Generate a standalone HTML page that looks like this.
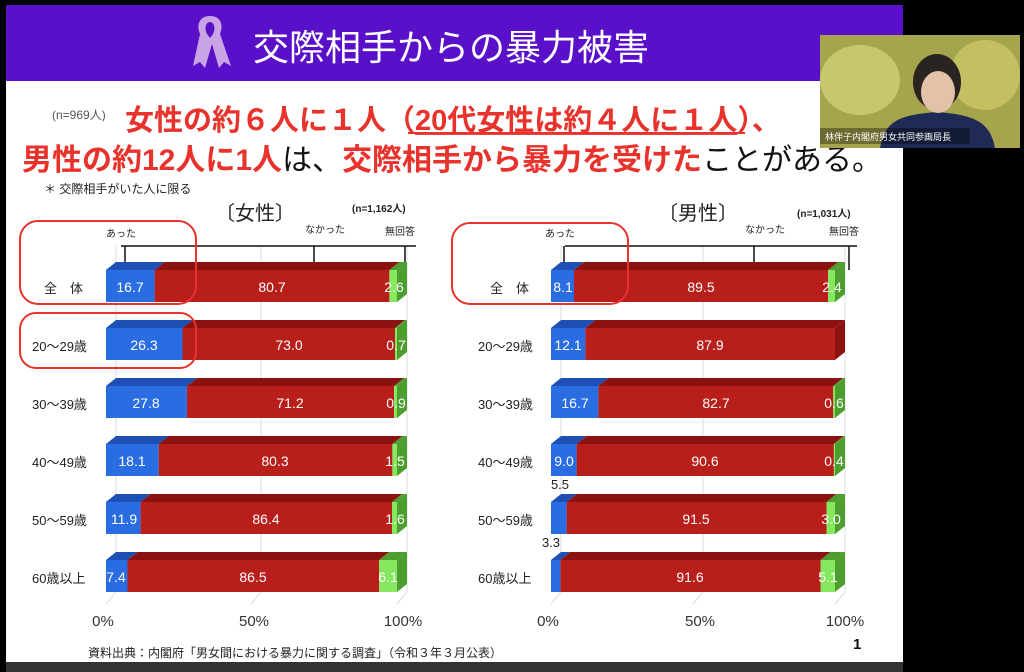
<!DOCTYPE html>
<html><head><meta charset="utf-8"><style>
body{margin:0;background:#000;width:1024px;height:672px;overflow:hidden}
svg{display:block}
text{font-family:"Liberation Sans","Noto Sans CJK JP",sans-serif}
</style></head><body>
<svg width="1024" height="672" viewBox="0 0 1024 672">
<rect x="0" y="0" width="1024" height="672" fill="#000"/>
<rect x="6" y="5" width="897" height="657" fill="#fff"/>
<rect x="6" y="662" width="897" height="10" fill="#333"/>
<rect x="6" y="5" width="897" height="76" fill="#5a0fc8"/>
<!-- ribbon -->
<path d="M210 16 C200 16 196 24 200 34 L193 66 L200 62 L205 68 L212 44 L219 68 L224 62 L231 66 L220 34 C224 24 220 16 210 16 Z M210 22 C214 22 216 28 213 34 L210 38 L207 34 C204 28 206 22 210 22Z" fill="#c9a5e6"/>
<text x="253" y="60" font-size="36" fill="#fff">交際相手からの暴力被害</text>
<!-- headline -->
<text x="52" y="119" font-size="12" fill="#555">(n=969人)</text>
<text x="125" y="130" font-size="29" font-weight="bold" fill="#e8322c">女性の約６人に１人（<tspan text-decoration="underline">20代女性は約４人に１人</tspan>）、</text>
<line x1="408" y1="133" x2="745" y2="133" stroke="#e8322c" stroke-width="2"/>
<text x="22" y="170" font-size="30" font-weight="bold" fill="#e8322c">男性の約12人に1人<tspan fill="#111" font-weight="normal">は、</tspan>交際相手から暴力を受けた<tspan fill="#111" font-weight="normal">ことがある。</tspan></text>
<text x="44" y="193" font-size="12" fill="#222">＊  交際相手がいた人に限る</text>
<text x="215" y="220" font-size="20" fill="#222">〔女性〕</text>
<text x="352" y="212" font-size="10" font-weight="bold" fill="#222">(n=1,162人)</text>
<text x="658" y="220" font-size="20" fill="#222">〔男性〕</text>
<text x="797" y="217" font-size="10" font-weight="bold" fill="#222">(n=1,031人)</text>
<!-- gridlines -->
<g stroke="#ddd" stroke-width="1" fill="none">
<path d="M116 245 V592 L106 604"/><path d="M261 245 V592 L251 604"/><path d="M407 245 V592 L397 604"/>
<path d="M561 245 V592 L551 604"/><path d="M703 245 V592 L693 604"/><path d="M845 245 V592 L835 604"/>
</g>
<!-- leader lines -->
<g stroke="#111" stroke-width="1.5" fill="none">
<path d="M121 246 H416"/><path d="M125 246 V268"/><path d="M314 246 V268"/><path d="M405 246 V268"/>
<path d="M565 246 H857"/><path d="M564 246 V270"/><path d="M754 246 V270"/><path d="M849 246 V270"/>
</g>
<g font-size="10" fill="#222">
<text x="106" y="237">あった</text><text x="305" y="233">なかった</text><text x="385" y="235">無回答</text>
<text x="545" y="237">あった</text><text x="745" y="233">なかった</text><text x="829" y="235">無回答</text>
</g>
<!-- row labels -->
<g font-size="13" fill="#222">
<text x="44" y="293">全　体</text><text x="32" y="351">20～29歳</text><text x="32" y="409">30～39歳</text><text x="32" y="467">40～49歳</text><text x="32" y="525">50～59歳</text><text x="32" y="583">60歳以上</text>
<text x="490" y="293">全　体</text><text x="478" y="351">20～29歳</text><text x="478" y="409">30～39歳</text><text x="478" y="467">40～49歳</text><text x="478" y="525">50～59歳</text><text x="478" y="583">60歳以上</text>
</g>
<defs>
<g id="dummy"></g>
</defs>
<!-- FEMALE bars: front y, height 32; top face dx10 dy8 -->
<g id="bars">
<!-- row template drawn explicitly -->
<!-- F1 y=270 -->
<g>
<polygon points="106,270 154.6,270 164.6,262 116,262" fill="#1d4fb5"/><polygon points="154.6,270 389.4,270 399.4,262 164.6,262" fill="#8c1212"/><polygon points="389.4,270 397,270 407,262 399.4,262" fill="#4c9e2e"/><polygon points="397,270 407,262 407,294 397,302" fill="#4c9e2e"/>
<rect x="106" y="270" width="48.6" height="32" fill="#2a6de2"/><rect x="154.6" y="270" width="234.8" height="32" fill="#b81f1b"/><rect x="389.4" y="270" width="7.6" height="32" fill="#86e85e"/>
</g>
<g>
<polygon points="106,328 182.5,328 192.5,320 116,320" fill="#1d4fb5"/><polygon points="182.5,328 395,328 405,320 192.5,320" fill="#8c1212"/><polygon points="395,328 397,328 407,320 405,320" fill="#4c9e2e"/><polygon points="397,328 407,320 407,352 397,360" fill="#4c9e2e"/>
<rect x="106" y="328" width="76.5" height="32" fill="#2a6de2"/><rect x="182.5" y="328" width="212.5" height="32" fill="#b81f1b"/><rect x="395" y="328" width="2" height="32" fill="#86e85e"/>
</g>
<g>
<polygon points="106,386 186.9,386 196.9,378 116,378" fill="#1d4fb5"/><polygon points="186.9,386 394.1,386 404.1,378 196.9,378" fill="#8c1212"/><polygon points="394.1,386 397,386 407,378 404.1,378" fill="#4c9e2e"/><polygon points="397,386 407,378 407,410 397,418" fill="#4c9e2e"/>
<rect x="106" y="386" width="80.9" height="32" fill="#2a6de2"/><rect x="186.9" y="386" width="207.2" height="32" fill="#b81f1b"/><rect x="394.1" y="386" width="2.9" height="32" fill="#86e85e"/>
</g>
<g>
<polygon points="106,444 158.7,444 168.7,436 116,436" fill="#1d4fb5"/><polygon points="158.7,444 392.4,444 402.4,436 168.7,436" fill="#8c1212"/><polygon points="392.4,444 397,444 407,436 402.4,436" fill="#4c9e2e"/><polygon points="397,444 407,436 407,468 397,476" fill="#4c9e2e"/>
<rect x="106" y="444" width="52.7" height="32" fill="#2a6de2"/><rect x="158.7" y="444" width="233.7" height="32" fill="#b81f1b"/><rect x="392.4" y="444" width="4.6" height="32" fill="#86e85e"/>
</g>
<g>
<polygon points="106,502 140.6,502 150.6,494 116,494" fill="#1d4fb5"/><polygon points="140.6,502 392,502 402,494 150.6,494" fill="#8c1212"/><polygon points="392,502 397,502 407,494 402,494" fill="#4c9e2e"/><polygon points="397,502 407,494 407,526 397,534" fill="#4c9e2e"/>
<rect x="106" y="502" width="34.6" height="32" fill="#2a6de2"/><rect x="140.6" y="502" width="251.4" height="32" fill="#b81f1b"/><rect x="392" y="502" width="5" height="32" fill="#86e85e"/>
</g>
<g>
<polygon points="106,560 127.5,560 137.5,552 116,552" fill="#1d4fb5"/><polygon points="127.5,560 379.2,560 389.2,552 137.5,552" fill="#8c1212"/><polygon points="379.2,560 397,560 407,552 389.2,552" fill="#4c9e2e"/><polygon points="397,560 407,552 407,584 397,592" fill="#4c9e2e"/>
<rect x="106" y="560" width="21.5" height="32" fill="#2a6de2"/><rect x="127.5" y="560" width="251.7" height="32" fill="#b81f1b"/><rect x="379.2" y="560" width="17.8" height="32" fill="#86e85e"/>
</g>
<!-- MALE -->
<g>
<polygon points="551,270 574,270 584,262 561,262" fill="#1d4fb5"/><polygon points="574,270 828.2,270 838.2,262 584,262" fill="#8c1212"/><polygon points="828.2,270 835,270 845,262 838.2,262" fill="#4c9e2e"/><polygon points="835,270 845,262 845,294 835,302" fill="#4c9e2e"/>
<rect x="551" y="270" width="23" height="32" fill="#2a6de2"/><rect x="574" y="270" width="254.2" height="32" fill="#b81f1b"/><rect x="828.2" y="270" width="6.8" height="32" fill="#86e85e"/>
</g>
<g>
<polygon points="551,328 585.4,328 595.4,320 561,320" fill="#1d4fb5"/><polygon points="585.4,328 835,328 845,320 595.4,320" fill="#8c1212"/><polygon points="835,328 845,320 845,352 835,360" fill="#8c1212"/>
<rect x="551" y="328" width="34.4" height="32" fill="#2a6de2"/><rect x="585.4" y="328" width="249.6" height="32" fill="#b81f1b"/>
</g>
<g>
<polygon points="551,386 598.4,386 608.4,378 561,378" fill="#1d4fb5"/><polygon points="598.4,386 833.3,386 843.3,378 608.4,378" fill="#8c1212"/><polygon points="833.3,386 835,386 845,378 843.3,378" fill="#4c9e2e"/><polygon points="835,386 845,378 845,410 835,418" fill="#4c9e2e"/>
<rect x="551" y="386" width="47.4" height="32" fill="#2a6de2"/><rect x="598.4" y="386" width="234.9" height="32" fill="#b81f1b"/><rect x="833.3" y="386" width="1.7" height="32" fill="#86e85e"/>
</g>
<g>
<polygon points="551,444 576.6,444 586.6,436 561,436" fill="#1d4fb5"/><polygon points="576.6,444 833.9,444 843.9,436 586.6,436" fill="#8c1212"/><polygon points="833.9,444 835,444 845,436 843.9,436" fill="#4c9e2e"/><polygon points="835,444 845,436 845,468 835,476" fill="#4c9e2e"/>
<rect x="551" y="444" width="25.6" height="32" fill="#2a6de2"/><rect x="576.6" y="444" width="257.3" height="32" fill="#b81f1b"/><rect x="833.9" y="444" width="1.1" height="32" fill="#86e85e"/>
</g>
<g>
<polygon points="551,502 566.6,502 576.6,494 561,494" fill="#1d4fb5"/><polygon points="566.6,502 826.5,502 836.5,494 576.6,494" fill="#8c1212"/><polygon points="826.5,502 835,502 845,494 836.5,494" fill="#4c9e2e"/><polygon points="835,502 845,494 845,526 835,534" fill="#4c9e2e"/>
<rect x="551" y="502" width="15.6" height="32" fill="#2a6de2"/><rect x="566.6" y="502" width="259.9" height="32" fill="#b81f1b"/><rect x="826.5" y="502" width="8.5" height="32" fill="#86e85e"/>
</g>
<g>
<polygon points="551,560 560.4,560 570.4,552 561,552" fill="#1d4fb5"/><polygon points="560.4,560 820.5,560 830.5,552 570.4,552" fill="#8c1212"/><polygon points="820.5,560 835,560 845,552 830.5,552" fill="#4c9e2e"/><polygon points="835,560 845,552 845,584 835,592" fill="#4c9e2e"/>
<rect x="551" y="560" width="9.4" height="32" fill="#2a6de2"/><rect x="560.4" y="560" width="260.1" height="32" fill="#b81f1b"/><rect x="820.5" y="560" width="14.5" height="32" fill="#86e85e"/>
</g>
</g>
<!-- values -->
<g font-size="14" fill="#fff" text-anchor="middle">
<text x="130" y="292">16.7</text><text x="272" y="292">80.7</text><text x="394" y="292">2.6</text>
<text x="144" y="350">26.3</text><text x="289" y="350">73.0</text><text x="396" y="350">0.7</text>
<text x="146" y="408">27.8</text><text x="290" y="408">71.2</text><text x="396" y="408">0.9</text>
<text x="132" y="466">18.1</text><text x="275" y="466">80.3</text><text x="395" y="466">1.5</text>
<text x="124" y="524">11.9</text><text x="266" y="524">86.4</text><text x="395" y="524">1.6</text>
<text x="116" y="582">7.4</text><text x="253" y="582">86.5</text><text x="388" y="582">6.1</text>
<text x="563" y="292">8.1</text><text x="701" y="292">89.5</text><text x="832" y="292">2.4</text>
<text x="568" y="350">12.1</text><text x="710" y="350">87.9</text>
<text x="575" y="408">16.7</text><text x="716" y="408">82.7</text><text x="834" y="408">0.6</text>
<text x="564" y="466">9.0</text><text x="705" y="466">90.6</text><text x="834" y="466">0.4</text>
<text x="696" y="524">91.5</text><text x="831" y="524">3.0</text>
<text x="690" y="582">91.6</text><text x="828" y="582">5.1</text>
</g>
<g font-size="13" fill="#222" text-anchor="middle">
<text x="560" y="489">5.5</text><text x="551" y="547">3.3</text>
</g>
<!-- axis labels -->
<g font-size="15" fill="#333" text-anchor="middle">
<text x="103" y="626">0%</text><text x="254" y="626">50%</text><text x="403" y="626">100%</text>
<text x="548" y="626">0%</text><text x="700" y="626">50%</text><text x="845" y="626">100%</text>
</g>
<!-- red circles -->
<g fill="none" stroke="#e8322c" stroke-width="2">
<rect x="20" y="221" width="176" height="83" rx="18"/>
<rect x="20" y="313" width="176" height="55" rx="16"/>
<rect x="452" y="223" width="176" height="81" rx="18"/>
</g>
<text x="88" y="657" font-size="12" fill="#222">資料出典：内閣府「男女間における暴力に関する調査」（令和３年３月公表）</text>
<text x="853" y="649" font-size="15" font-weight="bold" fill="#111">1</text>
<!-- webcam -->
<rect x="820" y="35" width="200" height="113" fill="#8a8a3a"/>
<rect x="820" y="35" width="200" height="113" fill="#b9b55a" opacity="0.6"/>
<ellipse cx="860" cy="80" rx="40" ry="35" fill="#d8d67a" opacity="0.7"/>
<ellipse cx="985" cy="75" rx="35" ry="35" fill="#cfcc6a" opacity="0.7"/>
<path d="M880 148 C885 120 900 115 937 112 C975 115 990 122 995 148 Z" fill="#1f2a55"/>
<ellipse cx="937" cy="82" rx="24" ry="28" fill="#2a2420"/>
<ellipse cx="938" cy="92" rx="17" ry="21" fill="#e2c2a8"/>
<rect x="820" y="128" width="150" height="16" fill="#000" opacity="0.35"/>
<text x="825" y="140" font-size="9" fill="#fff">林伴子内閣府男女共同参画局長</text>
</svg>
</body></html>
